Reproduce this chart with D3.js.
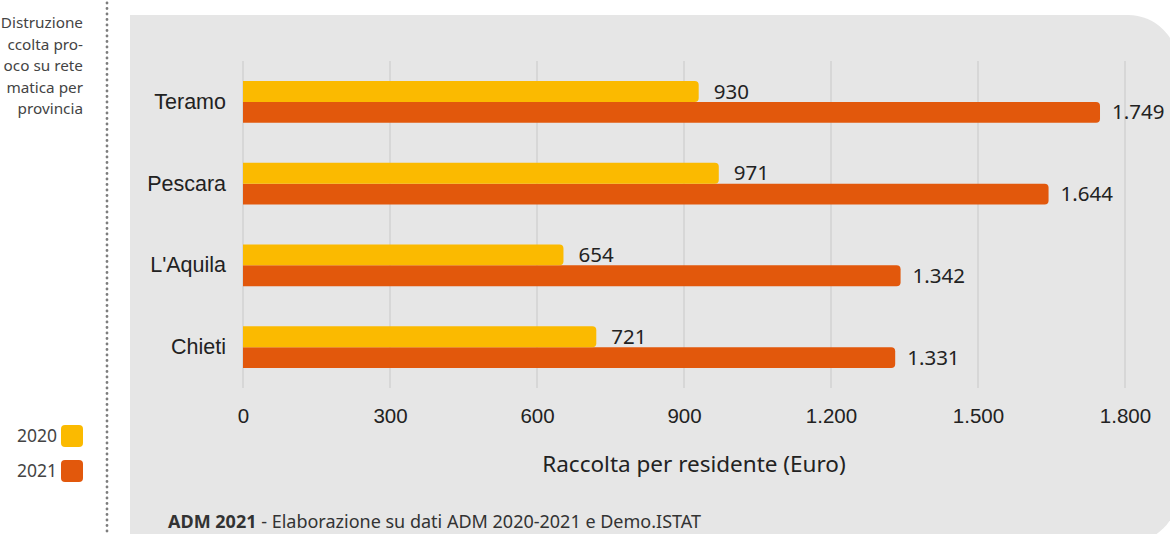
<!DOCTYPE html>
<html>
<head>
<meta charset="utf-8">
<script src="https://cdn.jsdelivr.net/npm/d3@7"></script>
<style>
  html, body { margin: 0; padding: 0; background: #ffffff; }
  svg { display: block; font-family: "Noto Sans", "Open Sans", sans-serif; }
</style>
</head>
<body>
<svg id="chart" width="1170" height="534"></svg>
<script>
// Provinces (top to bottom) and collection per resident, in euro
const provinces = ["Teramo", "Pescara", "L'Aquila", "Chieti"];
const years = ["2020", "2021"];
const values2020 = [930, 971, 654, 721];
const values2021 = [1749, 1644, 1342, 1331];
const tickValues = [0, 300, 600, 900, 1200, 1500, 1800];
const yearColors = ["#fbba00", "#e2580c"];
const titleLines = ["Distruzione", "ccolta pro-", "oco su rete", "matica per", "provincia"];
const axisTitle = "Raccolta per residente (Euro)";
const sourceBold = "ADM 2021";
const sourceRest = " - Elaborazione su dati ADM 2020-2021 e Demo.ISTAT";

const svg = d3.select("#chart");
const fmt = d3.formatLocale({ decimal: ",", thousands: ".", grouping: [3], currency: ["", "€"] }).format(",d");

// Grey panel, rounded on the right side only
const px = 130, py = 15, pw = 1048, ph = 528, r = 50;
svg.append("path")
  .attr("d", `M${px},${py} H${px + pw - r} A${r},${r} 0 0 1 ${px + pw},${py + r} V${py + ph - r} A${r},${r} 0 0 1 ${px + pw - r},${py + ph} H${px} Z`)
  .attr("fill", "#e6e6e6");

// Dotted separator
svg.append("line")
  .attr("x1", 107).attr("x2", 107).attr("y1", 3).attr("y2", 534)
  .attr("stroke", "#7d7d7d").attr("stroke-width", 2.8)
  .attr("stroke-linecap", "round").attr("stroke-dasharray", "0.1 5.4");

// Side title (right aligned against the separator)
svg.append("g").selectAll("text").data(titleLines).join("text")
  .attr("x", 83).attr("y", (d, i) => 28 + i * 21.5)
  .attr("text-anchor", "end").attr("font-size", 15.3).attr("fill", "#444")
  .text(d => d);

// Legend
const legend = svg.append("g").selectAll("g").data(years).join("g")
  .attr("transform", (d, i) => `translate(0,${425 + i * 35})`);
legend.append("rect").attr("x", 61).attr("y", 0).attr("width", 22).attr("height", 22)
  .attr("rx", 4).attr("fill", (d, i) => yearColors[i]);
legend.append("text").attr("x", 57).attr("y", 17).attr("text-anchor", "end")
  .attr("font-size", 17.5).attr("fill", "#444").text(d => d);

// Scales
const x = d3.scaleLinear().domain([0, 1800]).range([243, 1125]);
const y = d3.scaleBand().domain(provinces).range([61, 388]).paddingInner(0.49).paddingOuter(0.245);
const sub = d3.scaleBand().domain(years).range([0, y.bandwidth()]);

// Gridlines
svg.append("g").selectAll("line").data(tickValues).join("line")
  .attr("x1", d => x(d)).attr("x2", d => x(d)).attr("y1", 61).attr("y2", 388)
  .attr("stroke", "#d2d2d2").attr("stroke-width", 1.5);

// Bottom axis labels
const xAxis = svg.append("g").attr("transform", "translate(0,388)")
  .call(d3.axisBottom(x).tickValues(tickValues).tickFormat(fmt).tickSize(0).tickPadding(20));
xAxis.select(".domain").remove();
xAxis.selectAll("text").attr("font-size", 20.5).attr("fill", "#222").attr("font-family", "inherit");

// Left axis labels
const yAxis = svg.append("g").attr("transform", "translate(226,0)")
  .call(d3.axisLeft(y).tickSize(0).tickPadding(0));
yAxis.select(".domain").remove();
yAxis.selectAll("text").attr("font-size", 21.5).attr("fill", "#222").attr("font-family", "inherit");

// Bars: flat at the baseline, rounded at the value end
function barPath(x0, x1, y0, h, rr) {
  const w = x1 - x0;
  rr = Math.min(rr, w / 2, h / 2);
  return `M${x0},${y0} H${x1 - rr} A${rr},${rr} 0 0 1 ${x1},${y0 + rr} V${y0 + h - rr} A${rr},${rr} 0 0 1 ${x1 - rr},${y0 + h} H${x0} Z`;
}

const rows = provinces.map((p, i) => ({ p, vals: [values2020[i], values2021[i]] }));
const groups = svg.append("g").selectAll("g").data(rows).join("g")
  .attr("transform", d => `translate(0,${y(d.p)})`);

// 2021 bars first so the 2020 bar sits on top
groups.selectAll("path").data(d => years.map((yr, j) => ({ yr, v: d.vals[j], j })).reverse()).join("path")
  .attr("d", d => barPath(x(0), x(d.v), sub(d.yr), sub.bandwidth(), 4))
  .attr("fill", d => yearColors[d.j]);

groups.selectAll("text.val").data(d => years.map((yr, j) => ({ yr, v: d.vals[j], j }))).join("text")
  .attr("class", "val")
  .attr("x", d => x(d.v) + (d.j === 0 ? 15 : 12))
  .attr("y", d => sub(d.yr) + sub.bandwidth() / 2)
  .attr("dy", "0.35em")
  .attr("font-size", 20.5).attr("fill", "#222")
  .text(d => fmt(d.v));

// Axis title
svg.append("text").attr("x", 694).attr("y", 472).attr("text-anchor", "middle")
  .attr("font-size", 22.5).attr("fill", "#222").text(axisTitle);

// Source line
const src = svg.append("text").attr("x", 168).attr("y", 528).attr("font-size", 18).attr("fill", "#333");
src.append("tspan").attr("font-weight", "bold").text(sourceBold);
src.append("tspan").text(sourceRest);
</script>
</body>
</html>
